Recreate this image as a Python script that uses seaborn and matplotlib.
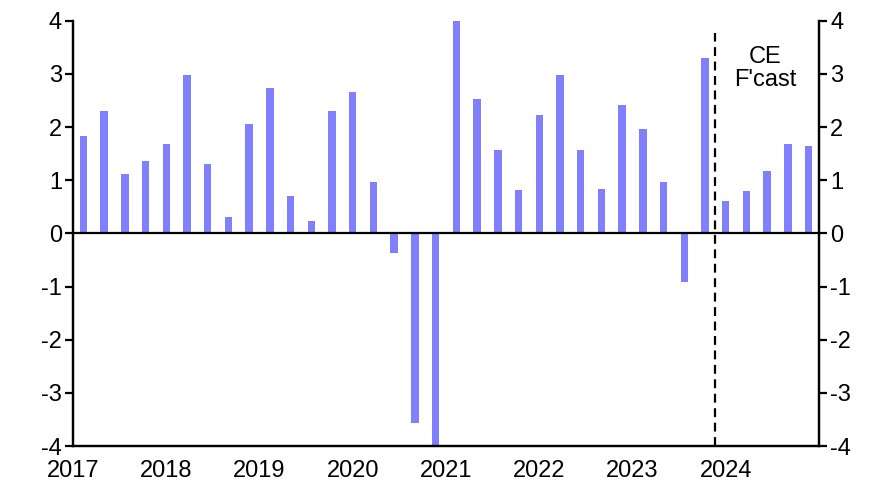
import numpy as np
import pandas as pd
import seaborn as sns
import matplotlib.pyplot as plt

# === DATA ===
values = [1.84, 2.31, 1.11, 1.37, 1.69, 2.97, 1.31, 0.30,
          2.05, 2.73, 0.71, 0.24, 2.31, 2.65, 0.97, -0.36,
          -3.56, -4.00, 4.00, 2.52, 1.56, 0.82, 2.22, 2.97,
          1.56, 0.84, 2.41, 1.97, 0.97, -0.92, 3.30, 0.60,
          0.79, 1.18, 1.69, 1.64]
year_labels = ["2017", "2018", "2019", "2020", "2021", "2022", "2023", "2024", ""]
y_ticks = [-4, -3, -2, -1, 0, 1, 2, 3, 4]
n_actual = 31  # bars before the forecast line
forecast_label = "CE\nF'cast"

df = pd.DataFrame({"period": np.arange(len(values)), "value": values})

sns.set_style("white")
plt.rcParams["font.family"] = ["Liberation Sans", "DejaVu Sans"]
plt.rcParams["axes.unicode_minus"] = False
plt.rcParams["text.color"] = "black"

fig = plt.figure(figsize=(8.85, 4.98), dpi=100)
ax = fig.add_axes([0.0825, 0.1044, 0.8429, 0.8540])

sns.barplot(data=df, x="period", y="value", color="#8080FF", saturation=1,
            width=0.36, linewidth=0, ax=ax)

ax.set_xlim(-0.5, len(values) - 0.5)
ax.set_ylim(-4, 4)
ax.axhline(0, color="black", lw=1.6, zorder=3)
ax.axvline(n_actual - 0.5, ymin=0.0, ymax=0.97, color="black", lw=1.6,
           ls=(0, (4, 2.5)), zorder=3)
ax.text(n_actual + 1.9, 3.1, forecast_label, ha="center", va="center",
        fontsize=17, linespacing=1.1, color="black")

xt = [-0.5 + 4.5 * k for k in range(len(year_labels))]
ax.set_xticks(xt)
ax.set_xticklabels(year_labels)
ax.set_yticks(y_ticks)
ax.set_xlabel("")
ax.set_ylabel("")

ax2 = ax.twinx()
ax2.set_ylim(-4, 4)
ax2.set_yticks(y_ticks)

for a in (ax, ax2):
    a.spines["top"].set_visible(False)
    for s in ("left", "right", "bottom"):
        a.spines[s].set_linewidth(1.6)
        a.spines[s].set_color("black")
    a.tick_params(axis="both", direction="out", length=6, width=1.6,
                  labelsize=17, colors="black")
ax.tick_params(axis="x", pad=4)
ax.tick_params(axis="y", pad=2)
ax2.tick_params(axis="y", pad=2)

fig.savefig("out.png", dpi=100)
